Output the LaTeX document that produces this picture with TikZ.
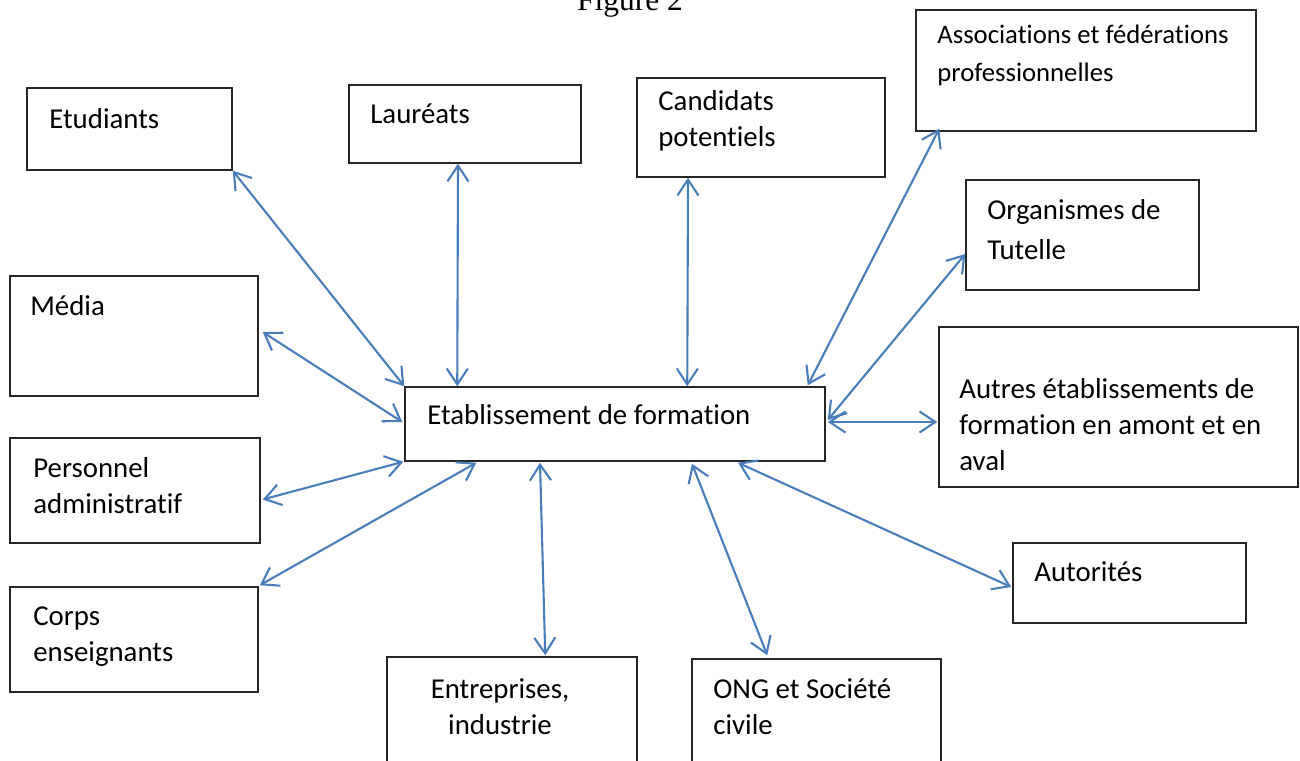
\documentclass[tikz,border=0pt]{standalone}
\usepackage{fontspec}
\setmainfont{Carlito}[Ligatures=CommonOff]
\newfontfamily\figfont{Liberation Serif}
\usetikzlibrary{arrows.meta,fit,calc}
\definecolor{linkblue}{RGB}{74,126,187}
\begin{document}
\begin{tikzpicture}[x=0.02cm, y=-0.02cm, >={Straight Barb[length=9pt,width=12pt]},
  box/.style={draw=black!85, line width=0.85pt, inner sep=0pt},
  box text/.style={anchor=north west, inner sep=0pt, align=left, font=\fontsize{16.4}{20.4}\selectfont}]
\useasboundingbox (0,0) rectangle (1300,760);
\node[font=\figfont\fontsize{17.9}{20}\selectfont, anchor=base] (fig) at (630,11) {Figure 2};
\begin{scope}
\node[box, fit={(27,88) (232,170)}] (etud) {};
\node[box, fit={(349,85) (581,163)}] (laur) {};
\node[box, fit={(637,78) (885,177)}] (cand) {};
\node[box, fit={(916,10) (1256,131)}] (asso) {};
\node[box, fit={(966,180) (1199,290)}] (orga) {};
\node[box, fit={(10,276) (258,396)}] (media) {};
\node[box, fit={(405,387) (825,461)}] (etab) {};
\node[box, fit={(939,327) (1298,487)}] (autr) {};
\node[box, fit={(10,438) (260,543)}] (pers) {};
\node[box, fit={(1013,543) (1246,623)}] (auto) {};
\node[box, fit={(10,587) (258,692)}] (corps) {};
\node[box, fit={(387,657) (637,780)}] (entr) {};
\node[box, fit={(692,659) (941,780)}] (ong) {};
\end{scope}
\begin{scope}[every node/.style={box text}]
\node (etudt) at (49,103) {\strut Etudiants};
\node (laurt) at (370,98) {\strut Lauréats};
\node (candt) at (658,85) {\strut Candidats\\potentiels};
\node[font=\fontsize{15.2}{21.5}\selectfont] (assot) at (937,17) {\strut Associations et fédérations\\professionnelles};
\node (orgat) at (987,194) {\strut Organismes de\\[2.5pt]Tutelle};
\node (mediat) at (30,290) {\strut Média};
\node (etabt) at (427,399) {\strut Etablissement de formation};
\node (autrt) at (959,373) {\strut Autres établissements de\\formation en amont et en\\aval};
\node (perst) at (33,452) {\strut Personnel\\administratif};
\node (autot) at (1034,556) {\strut Autorités};
\node (corpst) at (33,600) {\strut Corps\\enseignants};
\node[anchor=north, align=center] (entrt) at (500,673) {\strut Entreprises,\\industrie};
\node (ongt) at (713,673) {\strut ONG et Société\\civile};
\end{scope}
\begin{scope}[every edge/.style={draw=linkblue, line width=1.2pt, <->}]
\draw (etud.south east) edge (etab.north west);
\draw ($(laur.south)+(-7,0)$) edge ($(etab.north west)+(53,0)$);
\draw ($(cand.south)+(-73,0)$) edge ($(etab.north west)+(283,0)$);
\draw ($(asso.south west)+(24,-3)$) edge ($(etab.north east)+(-18,-1)$);
\draw ($(orga.west)+(0,19)$) edge ($(etab.east)+(2,-4)$);
\draw ($(etab.east)+(2,-2)$) edge ($(autr.west)+(-1,15)$);
\draw ($(etab.south)+(123,1)$) edge ($(auto.west)+(-1,4)$);
\draw ($(etab.south)+(77,2)$) edge ($(ong.north west)+(76,-3)$);
\draw ($(etab.south)+(-75,1)$) edge ($(entr.north west)+(159,-1)$);
\draw ($(etab.south west)+(72,1)$) edge ($(corps.north east)+(1,-1)$);
\draw ($(etab.south west)+(-1,0)$) edge ($(pers.east)+(2,9)$);
\draw ($(media.east)+(4,-4)$) edge ($(etab.west)+(-2,-2)$);
\end{scope}
\end{tikzpicture}
\end{document}
